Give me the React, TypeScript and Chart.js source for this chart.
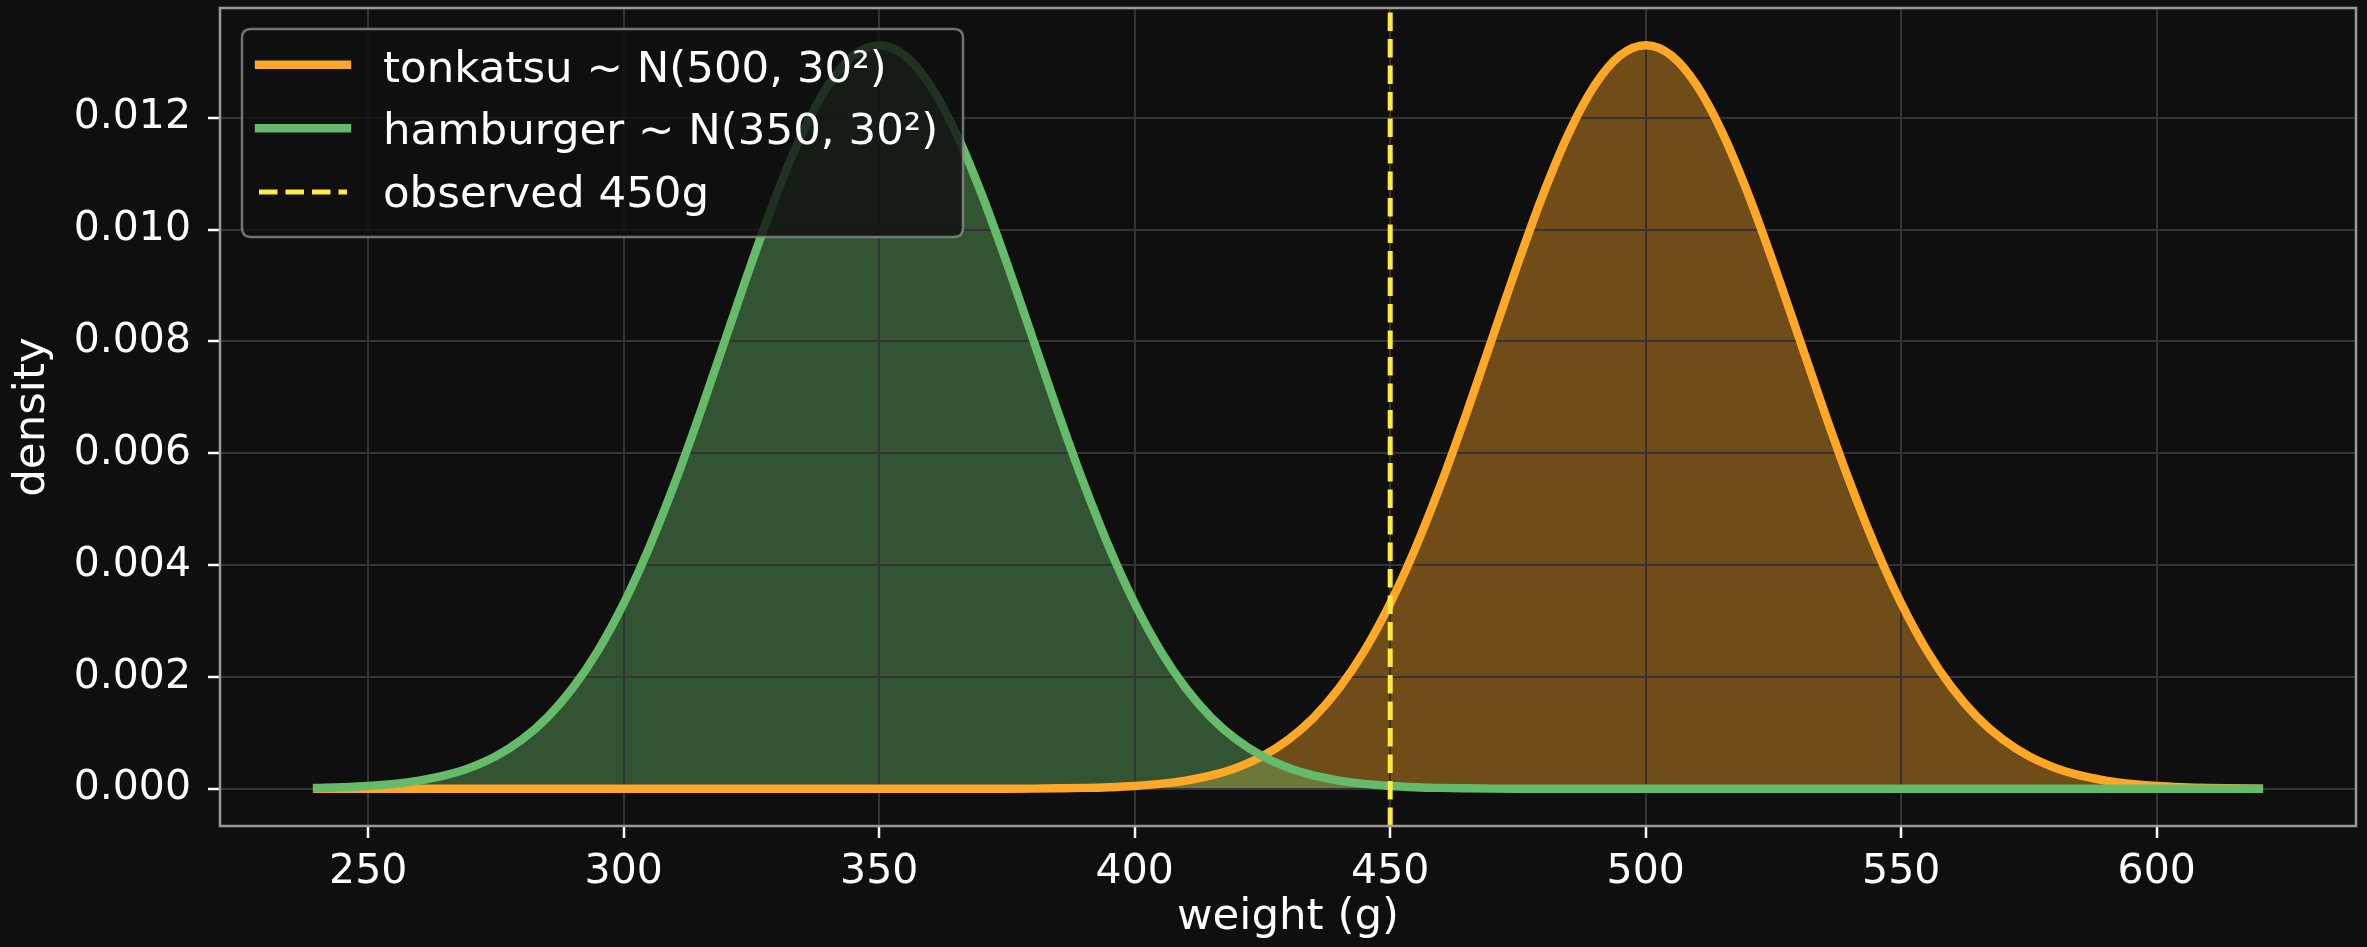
import { useEffect, useRef } from "react";
import { Chart, registerables } from "chart.js";

Chart.register(...registerables);

const W = 2367;
const H = 947;
const BG = "#0f0f0f";
const FONT = "'DejaVu Sans', sans-serif";

// weight (g) sample points
const WEIGHTS = [
  240, 245, 250, 255, 260, 265, 270, 275, 280, 285, 290, 295, 300, 305, 310, 315, 320, 325, 330, 335,
  340, 345, 350, 355, 360, 365, 370, 375, 380, 385, 390, 395, 400, 405, 410, 415, 420, 425, 430, 435,
  440, 445, 450, 455, 460, 465, 470, 475, 480, 485, 490, 495, 500, 505, 510, 515, 520, 525, 530, 535,
  540, 545, 550, 555, 560, 565, 570, 575, 580, 585, 590, 595, 600, 605, 610, 615, 620,
];

// density of tonkatsu ~ N(500, 30²)
const TONKATSU = [
  0, 0, 0, 0, 0, 0, 0, 0, 0, 0, 0, 0, 0, 0, 0, 0, 0, 0, 0, 0,
  0, 0, 0, 0, 0, 0, 0.000001, 0.000002, 0.000004, 0.000009, 0.000016, 0.000029, 0.000051, 0.000088, 0.000148, 0.00024, 0.00038, 0.000584, 0.000874, 0.001272,
  0.0018, 0.002477, 0.003316, 0.004317, 0.005467, 0.006733, 0.008066, 0.009397, 0.010648, 0.011735, 0.012579, 0.013115, 0.013298, 0.013115, 0.012579, 0.011735, 0.010648, 0.009397, 0.008066, 0.006733,
  0.005467, 0.004317, 0.003316, 0.002477, 0.0018, 0.001272, 0.000874, 0.000584, 0.00038, 0.00024, 0.000148, 0.000088, 0.000051, 0.000029, 0.000016, 0.000009, 0.000004,
];

// density of hamburger ~ N(350, 30²)
const HAMBURGER = [
  0.000016, 0.000029, 0.000051, 0.000088, 0.000148, 0.00024, 0.00038, 0.000584, 0.000874, 0.001272, 0.0018, 0.002477, 0.003316, 0.004317, 0.005467, 0.006733, 0.008066, 0.009397, 0.010648, 0.011735,
  0.012579, 0.013115, 0.013298, 0.013115, 0.012579, 0.011735, 0.010648, 0.009397, 0.008066, 0.006733, 0.005467, 0.004317, 0.003316, 0.002477, 0.0018, 0.001272, 0.000874, 0.000584, 0.00038, 0.00024,
  0.000148, 0.000088, 0.000051, 0.000029, 0.000016, 0.000009, 0.000004, 0.000002, 0.000001, 0, 0, 0, 0, 0, 0, 0, 0, 0, 0, 0,
  0, 0, 0, 0, 0, 0, 0, 0, 0, 0, 0, 0, 0, 0, 0, 0, 0,
];

const OBSERVED = 450;
const X_TICKS = [250, 300, 350, 400, 450, 500, 550, 600];
const Y_TICKS = [0, 0.002, 0.004, 0.006, 0.008, 0.01, 0.012];
const X_LIMITS = [221, 639];
const Y_LIMITS = [-0.000665, 0.013963];

const LEGEND_LABELS = ["tonkatsu ~ N(500, 30²)", "hamburger ~ N(350, 30²)", "observed 450g"];

const ORANGE = "#ffa726";
const GREEN = "#66bb6a";
const YELLOW = "#ffeb3b";
const ORANGE_FILL = "rgba(255,167,38,0.4)";
const GREEN_FILL = "rgba(102,187,106,0.4)";
const LINE_W = 8.4;
const DASH = [18.5, 8];
const TICK_SIZE = 41;
const LABEL_SIZE = 43.5;

const framePlugin = {
  id: "frameAndMarker",
  afterDatasetsDraw(chart: any) {
    const { ctx, chartArea, scales } = chart;
    ctx.save();
    // observed vertical dashed line
    const px = scales.x.getPixelForValue(OBSERVED);
    ctx.beginPath();
    ctx.setLineDash(DASH);
    ctx.lineWidth = 5;
    ctx.strokeStyle = YELLOW;
    ctx.moveTo(px, chartArea.bottom);
    ctx.lineTo(px, chartArea.top);
    ctx.stroke();
    ctx.setLineDash([]);
    // spines
    ctx.strokeStyle = "#9a9a9a";
    ctx.lineWidth = 2.5;
    ctx.strokeRect(chartArea.left, chartArea.top, chartArea.right - chartArea.left, chartArea.bottom - chartArea.top);
    ctx.restore();
  },
  afterDraw(chart: any) {
    const { ctx } = chart;
    ctx.save();
    const x = 242, y = 29, w = 721, h = 208, r = 9;
    ctx.beginPath();
    ctx.moveTo(x + r, y);
    ctx.lineTo(x + w - r, y);
    ctx.quadraticCurveTo(x + w, y, x + w, y + r);
    ctx.lineTo(x + w, y + h - r);
    ctx.quadraticCurveTo(x + w, y + h, x + w - r, y + h);
    ctx.lineTo(x + r, y + h);
    ctx.quadraticCurveTo(x, y + h, x, y + h - r);
    ctx.lineTo(x, y + r);
    ctx.quadraticCurveTo(x, y, x + r, y);
    ctx.closePath();
    ctx.fillStyle = "rgba(15,15,15,0.8)";
    ctx.fill();
    ctx.strokeStyle = "rgba(140,140,140,0.8)";
    ctx.lineWidth = 2.5;
    ctx.stroke();

    const rows = [64.8, 128.3, 192];
    const baselines = [81.5, 144, 207];
    const colors = [ORANGE, GREEN, YELLOW];
    rows.forEach((ry, i) => {
      ctx.beginPath();
      ctx.strokeStyle = colors[i];
      if (i < 2) {
        ctx.setLineDash([]);
        ctx.lineWidth = LINE_W;
        ctx.lineCap = "square";
      } else {
        ctx.setLineDash(DASH);
        ctx.lineWidth = 5;
        ctx.lineCap = "butt";
      }
      ctx.moveTo(259, ry);
      ctx.lineTo(347, ry);
      ctx.stroke();
      ctx.setLineDash([]);
      ctx.fillStyle = "#ffffff";
      ctx.font = `${LABEL_SIZE}px ${FONT}`;
      ctx.textBaseline = "alphabetic";
      ctx.textAlign = "left";
      ctx.fillText(LEGEND_LABELS[i], 383, baselines[i]);
    });
    ctx.restore();
  },
};

export default function App() {
  const ref = useRef<HTMLCanvasElement>(null);
  useEffect(() => {
    document.body.style.margin = "0";
    document.body.style.background = BG;
    const canvas = ref.current!;
    const toPts = (ys: number[]) => WEIGHTS.map((w, i) => ({ x: w, y: ys[i] }));
    const chart = new Chart(canvas, {
      type: "line",
      data: {
        datasets: [
          {
            label: LEGEND_LABELS[1],
            data: toPts(HAMBURGER),
            borderColor: GREEN,
            backgroundColor: GREEN_FILL,
            borderWidth: LINE_W,
            fill: "origin",
            pointRadius: 0,
            cubicInterpolationMode: "monotone",
            borderCapStyle: "square",
            borderJoinStyle: "round",
            order: 0,
          },
          {
            label: LEGEND_LABELS[0],
            data: toPts(TONKATSU),
            borderColor: ORANGE,
            backgroundColor: ORANGE_FILL,
            borderWidth: LINE_W,
            fill: "origin",
            pointRadius: 0,
            cubicInterpolationMode: "monotone",
            borderCapStyle: "square",
            borderJoinStyle: "round",
            order: 1,
          },
        ],
      },
      options: {
        responsive: false,
        animation: false,
        devicePixelRatio: 1,
        layout: { padding: { top: 8, right: 11, left: 0, bottom: 0 } },
        plugins: {
          legend: { display: false },
          tooltip: { enabled: false },
          filler: { drawTime: "beforeDraw" },
        },
        scales: {
          x: {
            type: "linear",
            min: X_LIMITS[0],
            max: X_LIMITS[1],
            afterBuildTicks: (s: any) => {
              s.ticks = X_TICKS.map((v) => ({ value: v }));
            },
            afterFit: (s: any) => {
              s.height = H - 826;
              s.paddingLeft = 0;
              s.paddingRight = 0;
            },
            border: { display: false },
            grid: {
              color: "#333333",
              lineWidth: 2,
              drawTicks: true,
              tickLength: 12,
              tickColor: "#ffffff",
              tickWidth: 2.5,
            },
            ticks: {
              color: "#ffffff",
              font: { family: FONT, size: TICK_SIZE },
              padding: 10,
              maxRotation: 0,
              callback: (v: any) => String(v),
            },
            title: {
              display: true,
              text: "weight (g)",
              color: "#ffffff",
              font: { family: FONT, size: LABEL_SIZE },
              padding: { top: 0, bottom: 3 },
            },
          },
          y: {
            type: "linear",
            min: Y_LIMITS[0],
            max: Y_LIMITS[1],
            afterBuildTicks: (s: any) => {
              s.ticks = Y_TICKS.map((v) => ({ value: v }));
            },
            afterFit: (s: any) => {
              s.width = 220;
              s.paddingTop = 0;
              s.paddingBottom = 0;
            },
            border: { display: false },
            grid: {
              color: "#333333",
              lineWidth: 2,
              drawTicks: true,
              tickLength: 12,
              tickColor: "#ffffff",
              tickWidth: 2.5,
            },
            ticks: {
              color: "#ffffff",
              font: { family: FONT, size: TICK_SIZE },
              padding: 17,
              callback: (v: any) => Number(v).toFixed(3),
            },
            title: {
              display: true,
              text: "density",
              color: "#ffffff",
              font: { family: FONT, size: LABEL_SIZE },
              padding: { top: 7, bottom: 0 },
            },
          },
        },
      },
      plugins: [framePlugin],
    });
    return () => chart.destroy();
  }, []);
  return (
    <div style={{ width: W, height: H, background: BG }}>
      <canvas ref={ref} width={W} height={H} style={{ display: "block", width: W, height: H }} />
    </div>
  );
}
